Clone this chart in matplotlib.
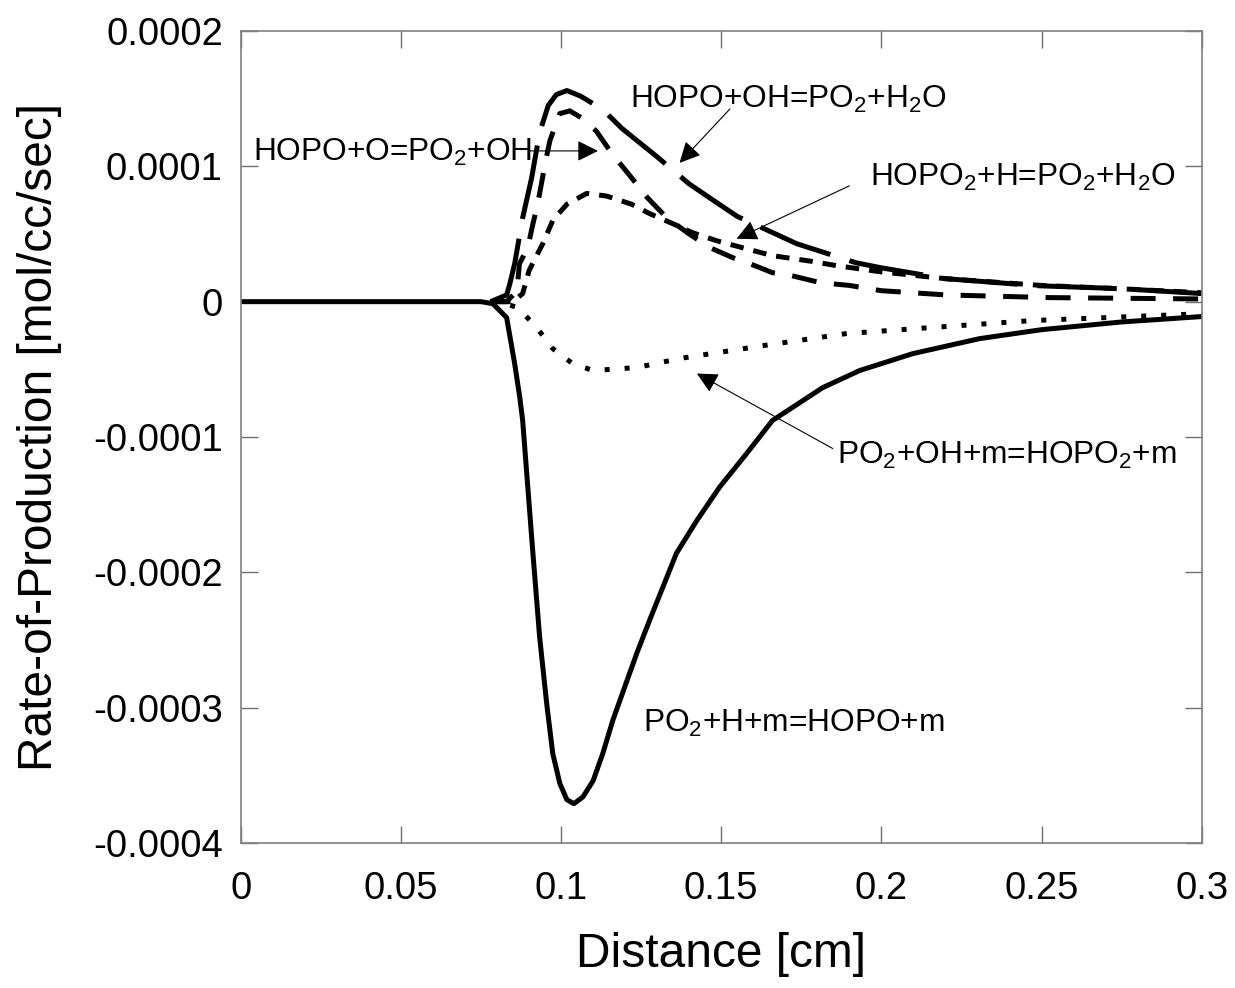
import matplotlib
matplotlib.use("Agg")
import matplotlib.pyplot as plt
from matplotlib.ticker import FixedLocator

plt.rcParams['font.family'] = ['Liberation Sans', 'DejaVu Sans']
plt.rcParams['mathtext.fontset'] = 'custom'
plt.rcParams['mathtext.rm'] = 'Liberation Sans'
plt.rcParams['mathtext.it'] = 'Liberation Sans'

# PO2+H+m=HOPO+m (solid)
x_h = [0, 0.075, 0.0787, 0.083, 0.0855, 0.0871, 0.088, 0.0896, 0.0912, 0.0933,
       0.0955, 0.0974, 0.0996, 0.1018, 0.104, 0.1068, 0.110, 0.113, 0.1162,
       0.1236, 0.1277, 0.136, 0.1423, 0.1495, 0.158, 0.166, 0.1817, 0.1932,
       0.2098, 0.2307, 0.25, 0.275, 0.3]
y_h = [0, 0, -0.0000015, -0.0000118, -0.0000458, -0.0000708, -0.0000878,
       -0.000137, -0.000186, -0.000248, -0.000297, -0.000334, -0.000356,
       -0.000368, -0.000371, -0.000366, -0.000354, -0.000334, -0.000309,
       -0.00026, -0.000235, -0.000186, -0.000162, -0.000137, -0.000112,
       -0.0000878, -0.0000635, -0.0000509, -0.0000384, -0.0000273,
       -0.0000207, -0.000015, -0.000011]

# PO2+OH+m=HOPO2+m (dotted)
x_oh = [0.078, 0.082, 0.0865, 0.0924, 0.0974, 0.1036, 0.110, 0.1236, 0.137,
        0.163, 0.189, 0.215, 0.247, 0.3]
y_oh = [0, -0.000001, -0.0000044, -0.0000192, -0.0000347, -0.0000458,
        -0.0000509, -0.0000487, -0.000042, -0.0000325, -0.0000236,
        -0.0000192, -0.000014, -0.0000089]

# HOPO+OH=PO2+H2O (long dash)
x_ohw = [0.078, 0.083, 0.084, 0.0855, 0.088, 0.0908, 0.0933, 0.096, 0.0985,
         0.1018, 0.106, 0.113, 0.119, 0.130, 0.140, 0.1464, 0.155, 0.167,
         0.1736, 0.192, 0.20, 0.22, 0.2485, 0.275, 0.3]
y_ohw = [0, 0.000005, 0.0000133, 0.000028, 0.000062, 0.0000915, 0.000125,
         0.000145, 0.000153, 0.000156, 0.000152, 0.000142, 0.000128, 0.000107,
         0.000087, 0.0000767, 0.000063, 0.00005, 0.0000428, 0.0000288,
         0.000025, 0.000017, 0.0000118, 0.0000096, 0.000006]

# HOPO+O=PO2+OH (medium dash)
x_o = [0.078, 0.083, 0.0862, 0.087, 0.0896, 0.0912, 0.0927, 0.094, 0.095,
       0.0965, 0.0996, 0.1027, 0.107, 0.111, 0.116, 0.121, 0.127, 0.133,
       0.140, 0.1464, 0.1536, 0.159, 0.166, 0.172, 0.181, 0.19, 0.2, 0.22,
       0.2526, 0.3]
y_o = [0, 0, 0.000008, 0.000028, 0.00004, 0.0000575, 0.0000723, 0.000089,
       0.000102, 0.000119, 0.000139, 0.000141, 0.000135, 0.000126, 0.000109,
       0.0000945, 0.0000767, 0.000062, 0.00005, 0.00004, 0.0000325, 0.000028,
       0.0000214, 0.0000192, 0.000014, 0.000012, 0.0000081, 0.000005,
       0.000003, 0.000002]

# HOPO2+H=PO2+H2O (short dash)
x_h2 = [0.08, 0.085, 0.088, 0.090, 0.0943, 0.0974, 0.1018, 0.108, 0.1143,
        0.122, 0.1277, 0.135, 0.141, 0.1486, 0.158, 0.166, 0.1777, 0.186,
        0.2, 0.22, 0.25, 0.275, 0.3]
y_h2 = [0, 0, 0.000006, 0.000023, 0.000043, 0.00006, 0.000072, 0.00008,
        0.000078, 0.000072, 0.000065, 0.0000575, 0.000051, 0.000045,
        0.000039, 0.000034, 0.00003, 0.0000266, 0.000022, 0.000017, 0.000012,
        0.0000095, 0.0000066]

xticks = [0, 0.05, 0.1, 0.15, 0.2, 0.25, 0.3]
xtick_labels = ['0', '0.05', '0.1', '0.15', '0.2', '0.25', '0.3']
yticks = [0.0002, 0.0001, 0, -0.0001, -0.0002, -0.0003, -0.0004]
ytick_labels = ['0.0002', '0.0001', '0', '-0.0001', '-0.0002', '-0.0003', '-0.0004']

fig = plt.figure(figsize=(12.35, 9.88), dpi=100)
ax = fig.add_axes([0.195, 0.1468, 0.778, 0.8218])

lw = 3.6
ax.plot(x_h, y_h, color='black', lw=lw, solid_joinstyle='round')
ax.plot(x_oh, y_oh, color='black', lw=lw, dashes=(1, 3))
ax.plot(x_ohw, y_ohw, color='black', lw=lw, dashes=(15, 4))
ax.plot(x_o, y_o, color='black', lw=lw, dashes=(5, 3.5))
ax.plot(x_h2, y_h2, color='black', lw=lw, dashes=(2.7, 2))

ax.set_xlim(0, 0.3)
ax.set_ylim(-0.0004, 0.0002)
ax.xaxis.set_major_locator(FixedLocator(xticks))
ax.set_xticklabels(xtick_labels)
ax.yaxis.set_major_locator(FixedLocator(yticks))
ax.set_yticklabels(ytick_labels)

for s in ax.spines.values():
    s.set_color('#808080')
    s.set_linewidth(1.2)
ax.tick_params(direction='in', length=12, width=1, color='#707070',
               top=True, right=True, labelsize=27.5)
ax.tick_params(axis='x', pad=20)
ax.tick_params(axis='y', pad=13)

ax.set_xlabel('Distance [cm]', fontsize=34.5, labelpad=18)
ax.set_ylabel('Rate-of-Production [mol/cc/sec]', fontsize=34.5, labelpad=22)

fs = 22.8
arrow = dict(arrowstyle='-|>', color='black', lw=0.8, mutation_scale=32,
             shrinkA=0, shrinkB=0)

ax.text(0.1215, 0.0001432, 'HOPO+OH=PO$_2$+H$_2$O', fontsize=fs, ha='left', va='baseline')
ax.annotate('', xy=(0.137, 0.0001026), xytext=(0.1527, 0.0001424), arrowprops=arrow)

ax.text(0.00375, 0.000104, 'HOPO+O=PO$_2$+OH', fontsize=fs, ha='left', va='baseline')
ax.annotate('', xy=(0.1115, 0.0001114), xytext=(0.0902, 0.0001114), arrowprops=arrow)

ax.text(0.1964, 0.0000856, 'HOPO$_2$+H=PO$_2$+H$_2$O', fontsize=fs, ha='left', va='baseline')
ax.annotate('', xy=(0.1548, 0.0000465), xytext=(0.190, 0.0000856), arrowprops=arrow)

ax.text(0.186, -0.0001196, 'PO$_2$+OH+m=HOPO$_2$+m', fontsize=fs, ha='left', va='baseline')
ax.annotate('', xy=(0.1424, -0.0000531), xytext=(0.1848, -0.0001085), arrowprops=arrow)

ax.text(0.1255, -0.000318, 'PO$_2$+H+m=HOPO+m', fontsize=fs, ha='left', va='baseline')

fig.savefig('out.png', dpi=100)
